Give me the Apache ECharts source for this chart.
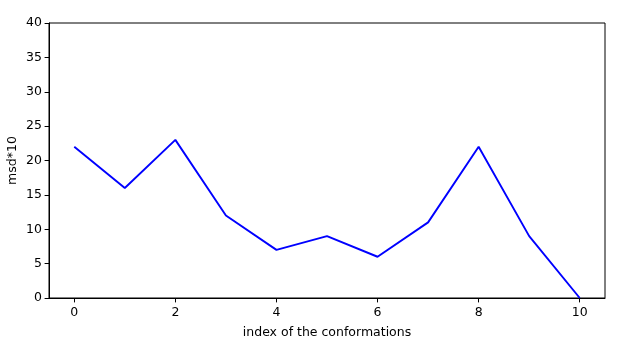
<!DOCTYPE html>
<html><head><meta charset="utf-8">
<script src="https://cdn.jsdelivr.net/npm/echarts@6/dist/echarts.min.js"></script>
<style>html,body{margin:0;padding:0;background:#fff}#c{width:629px;height:361px}</style>
</head><body><div id="c"></div>
<script>
const xValues = [0,1,2,3,4,5,6,7,8,9,10];
const msdValues = [22,16,23,12,7,9,6,11,22,9,0];
const xTicks = [0,2,4,6,8,10];
const chart = echarts.init(document.getElementById('c'), null, {renderer:'canvas'});
const font = 'DejaVu Sans';
chart.setOption({
  animation:false,
  backgroundColor:'#fff',
  grid:{left:49,right:24,top:23,bottom:63,outerBoundsMode:'none',containLabel:false,show:true,borderColor:'#000',borderWidth:1,backgroundColor:'transparent'},
  xAxis:{type:'value',min:-0.5,max:10.5,
    name:'index of the conformations',nameLocation:'middle',nameGap:28,nameMoveOverlap:false,
    nameTextStyle:{fontFamily:font,fontSize:12.5,color:'#000'},
    axisLine:{show:true,onZero:false,lineStyle:{color:'#000',width:1}},
    axisTick:{show:true,inside:false,length:4.4,customValues:xTicks,lineStyle:{color:'#000'}},
    axisLabel:{customValues:xTicks,fontFamily:font,fontSize:12.5,color:'#000',margin:8},
    splitLine:{show:false}},
  yAxis:{type:'value',min:0,max:40,interval:5,
    name:'msd*10',nameLocation:'middle',nameGap:30,nameRotate:90,nameMoveOverlap:false,
    nameTextStyle:{fontFamily:font,fontSize:12.5,color:'#000'},
    axisLine:{show:true,onZero:false,lineStyle:{color:'#000',width:1}},
    axisTick:{show:true,length:4.4,lineStyle:{color:'#000'}},
    axisLabel:{fontFamily:font,fontSize:12.5,color:'#000',margin:7},
    splitLine:{show:false}},
  series:[{type:'line',data:xValues.map((x,i)=>[x,msdValues[i]]),
    showSymbol:false,symbol:'none',lineStyle:{color:'#0000ff',width:1.9},itemStyle:{color:'#0000ff'}}]
});
</script></body></html>
